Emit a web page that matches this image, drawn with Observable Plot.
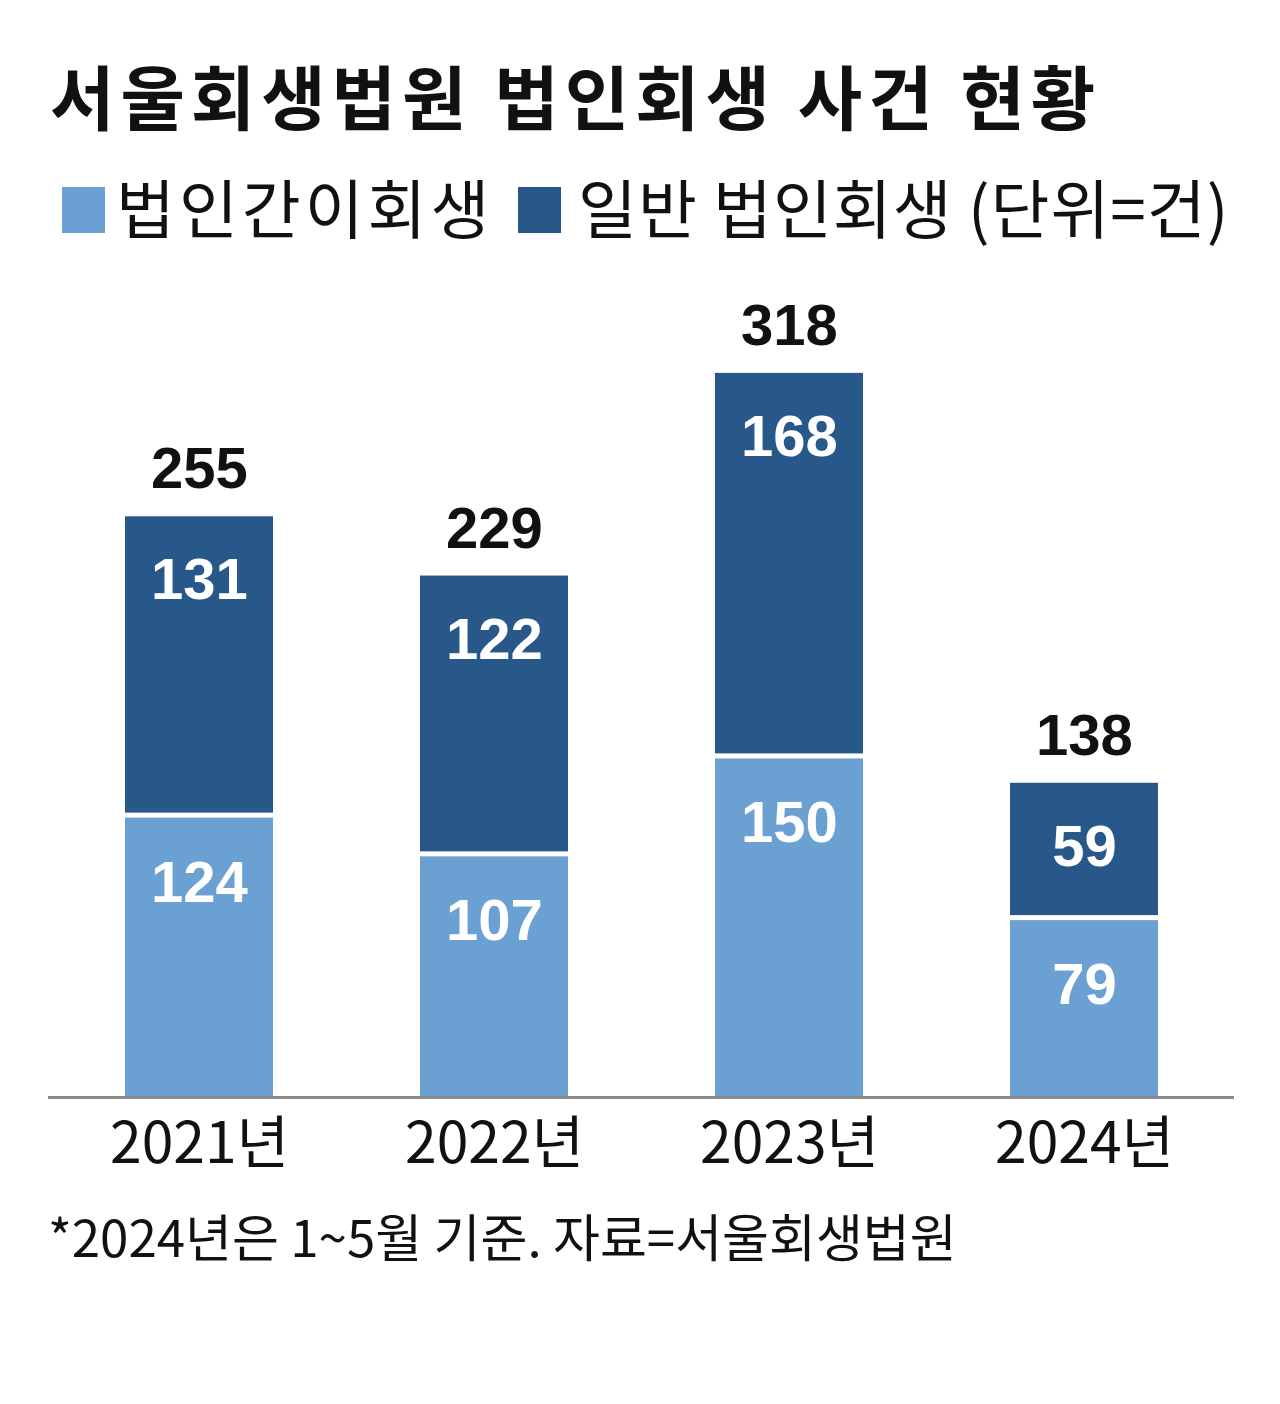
<!DOCTYPE html>
<html>
<head>
<meta charset="utf-8">
<script src="https://cdn.jsdelivr.net/npm/d3@7"></script>
<script src="https://cdn.jsdelivr.net/npm/@observablehq/plot@0.6"></script>
<style>
  html, body { margin: 0; padding: 0; background: #fff; }
  #page { position: relative; width: 1280px; height: 1404px; overflow: hidden; font-family: "Noto Sans CJK KR", "Noto Sans", sans-serif; color: #111; }
  .abs { position: absolute; line-height: 1; white-space: nowrap; }
  #title { left: 50px; top: 60px; font-size: 70px; font-weight: 700; letter-spacing: 6px; }
  .sw { position: absolute; width: 43px; height: 46px; }
  .leg { font-size: 64px; top: 173px; }
  #foot { left: 48px; top: 1210px; font-size: 51px; letter-spacing: 0px; }
  #chart { position: absolute; left: 0; top: 260px; }
</style>
</head>
<body>
<div id="page">
  <div id="title" class="abs">서울회생법원 법인회생 사건 현황</div>
  <div class="sw" style="left:62px; top:187px; background:#6ba0d2"></div>
  <div class="abs leg" style="left:116px; letter-spacing:4px">법인간이회생</div>
  <div class="sw" style="left:518px; top:187px; background:#28588a"></div>
  <div class="abs leg" style="left:578px; letter-spacing:1px">일반 법인회생 (단위=건)</div>
  <div id="chart"></div>
  <div id="foot" class="abs">*2024년은 1~5월 기준. 자료=서울회생법원</div>
</div>
<script>
const years = ["2021", "2022", "2023", "2024"];
const simpleCases = [124, 107, 150, 79];   // 법인간이회생
const generalCases = [131, 122, 168, 59];  // 일반 법인회생
const totals = [255, 229, 318, 138];

const lightBlue = "#6ba0d2";
const darkBlue = "#28588a";

const rows = years.map((y, i) => ({
  year: y,
  simple: simpleCases[i],
  general: generalCases[i],
  total: totals[i]
}));

const numFont = "Liberation Sans, Arial, sans-serif";

const chart = Plot.plot({
  width: 1280,
  height: 950,
  marginLeft: 48,
  marginRight: 46,
  marginTop: 40,
  marginBottom: 113,
  x: { domain: years, paddingInner: 0.5, paddingOuter: 0.26, axis: null },
  y: { domain: [0, 350], axis: null },
  style: { background: "#fff", overflow: "visible" },
  marks: [
    Plot.barY(rows, { x: "year", y1: 0, y2: "simple", fill: lightBlue, insetTop: 3 }),
    Plot.barY(rows, { x: "year", y1: "simple", y2: "total", fill: darkBlue, insetBottom: 2 }),
    Plot.ruleY([0], { stroke: "#8c8c8c", strokeWidth: 3 }),
    Plot.text(rows, { x: "year", y: "simple", text: d => String(d.simple), dy: 68, fill: "#fff", fontSize: 58, fontWeight: 700, fontFamily: numFont }),
    Plot.text(rows, { x: "year", y: "total", text: d => String(d.general), dy: 64, fill: "#fff", fontSize: 58, fontWeight: 700, fontFamily: numFont }),
    Plot.text(rows, { x: "year", y: "total", text: d => String(d.total), dy: -47, fill: "#111", fontSize: 58, fontWeight: 700, fontFamily: numFont }),
    Plot.axisX({ tickSize: 0, tickPadding: 25, fontSize: 57, fontFamily: "Noto Sans CJK KR", tickFormat: d => d + "년", label: null, fill: "#111" })
  ]
});
document.getElementById("chart").appendChild(chart);
</script>
</body>
</html>
